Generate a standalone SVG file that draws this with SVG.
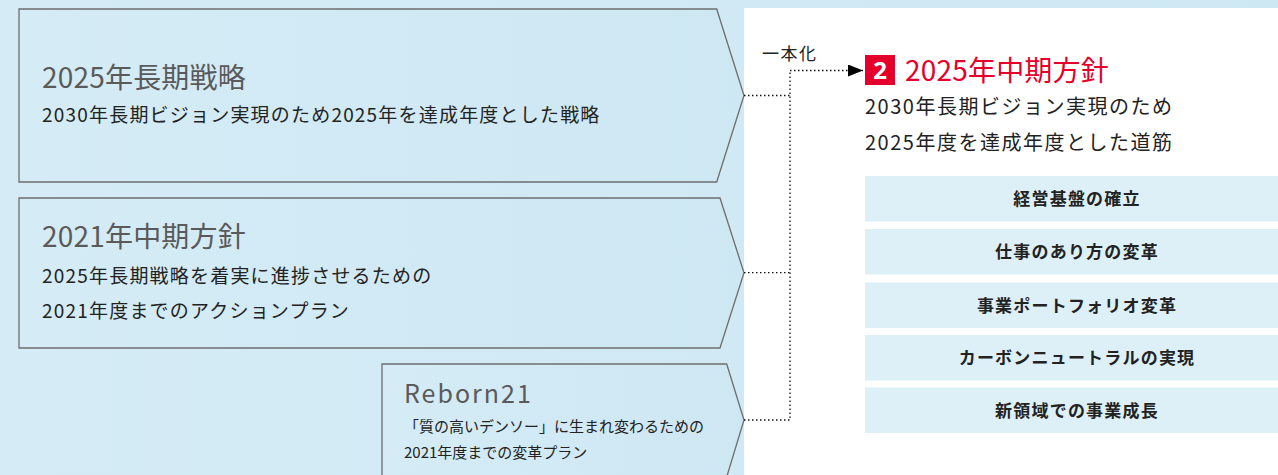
<svg xmlns="http://www.w3.org/2000/svg" width="1278" height="475" viewBox="0 0 1278 475">
<defs>
<linearGradient id="bg" x1="0" y1="0" x2="1" y2="0">
<stop offset="0" stop-color="#d5ecf6"/>
<stop offset="1" stop-color="#cde7f3"/>
</linearGradient>
<marker id="arr" markerWidth="16" markerHeight="12" refX="15" refY="6" orient="auto" markerUnits="userSpaceOnUse">
<path d="M0,0 L15,6 L0,12 Z" fill="#000"/>
</marker>
</defs>
<style>
text{font-family:"Noto Sans CJK JP","Noto Sans",sans-serif;}
.shape{fill:url(#bg);stroke:#6e6e6e;stroke-width:1.3;}
.ttl{font-size:28px;fill:#5a5a5a;letter-spacing:0.2px;}
.body{font-size:19px;fill:#222;letter-spacing:1.2px;}
.small{font-size:15px;fill:#222;}
.conn{fill:none;stroke:#111;stroke-width:1.3;stroke-dasharray:1.5 2.5;}
.box{fill:#ddf0f8;}
.boxt{font-size:17px;font-weight:bold;fill:#222;letter-spacing:1.2px;text-anchor:middle;}
.sub{font-size:20px;fill:#222;letter-spacing:1.5px;}
</style>
<rect x="0" y="0" width="1278" height="475" fill="url(#bg)"/>
<rect x="744" y="8" width="534" height="467" fill="#fff"/>

<g id="node-2025-long-term">
<path class="shape" d="M19,9 L716.7,9 L744,95.5 L716.7,182 L19,182 Z"/>
<text class="ttl" x="42" y="88">2025年長期戦略</text>
<text class="body" x="42" y="122">2030年長期ビジョン実現のため2025年を達成年度とした戦略</text>
</g>

<g id="node-2021-mid-term">
<path class="shape" d="M19,198 L720,198 L744,272.7 L720,348 L19,348 Z"/>
<text class="ttl" x="42" y="247">2021年中期方針</text>
<text class="body" x="42" y="282.7">2025年長期戦略を着実に進捗させるための</text>
<text class="body" x="42" y="318">2021年度までのアクションプラン</text>
</g>

<g id="node-reborn21">
<path class="shape" d="M382,477 L382,364 L726.7,364 L744,420 L726.7,477"/>
<text class="ttl" x="404" y="403" style="letter-spacing:2px;font-size:25px">Reborn21</text>
<text class="small" x="404" y="431.5">「質の高いデンソー」に生まれ変わるための</text>
<text class="small" x="404" y="458">2021年度までの変革プラン</text>
</g>

<g id="connectors">
<path class="conn" d="M744,95.5 H790"/>
<path class="conn" d="M744,272.7 H790"/>
<path class="conn" d="M744,420 H790 V70.5"/>
<path class="conn" d="M790,70.5 H863" marker-end="url(#arr)"/>
<text x="762" y="60" style="font-size:17px;fill:#222;letter-spacing:1.5px;">一本化</text>
</g>

<g id="node-2025-mid-term">
<rect x="865" y="55" width="30" height="30" fill="#e4002b"/>
<text x="880" y="78.5" style="font-size:24px;font-weight:bold;fill:#fff;text-anchor:middle;font-family:'Noto Sans',sans-serif">2</text>
<text x="905" y="80.7" style="font-size:28px;fill:#e4002b;letter-spacing:0.2px;">2025年中期方針</text>
<text class="sub" x="865" y="114">2030年長期ビジョン実現のため</text>
<text class="sub" x="865" y="150">2025年度を達成年度とした道筋</text>
</g>

<g id="item-1">
<rect class="box" x="865" y="176" width="413" height="45.5"/>
<text class="boxt" x="1077" y="205">経営基盤の確立</text>
</g>
<g id="item-2">
<rect class="box" x="865" y="229" width="413" height="45.5"/>
<text class="boxt" x="1077" y="258">仕事のあり方の変革</text>
</g>
<g id="item-3">
<rect class="box" x="865" y="282.5" width="413" height="45.5"/>
<text class="boxt" x="1077" y="311.5">事業ポートフォリオ変革</text>
</g>
<g id="item-4">
<rect class="box" x="865" y="335" width="413" height="45.5"/>
<text class="boxt" x="1077" y="364">カーボンニュートラルの実現</text>
</g>
<g id="item-5">
<rect class="box" x="865" y="387.5" width="413" height="45.5"/>
<text class="boxt" x="1077" y="416.5">新領域での事業成長</text>
</g>
</svg>
